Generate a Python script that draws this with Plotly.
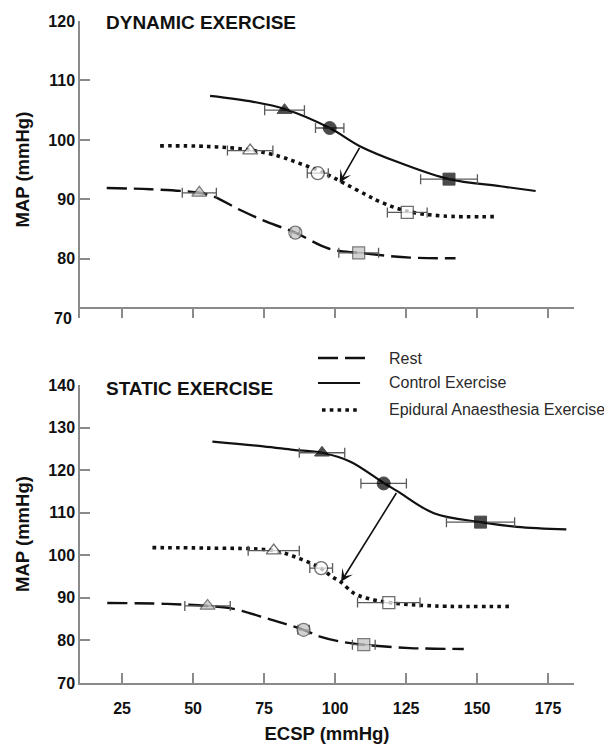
import plotly.graph_objects as go

# ---------------- data ----------------
ecsp_ticks = [25, 50, 75, 100, 125, 150, 175]
dyn_map_ticks = [80, 90, 100, 110, 120]
sta_map_ticks = [70, 80, 90, 100, 110, 120, 130, 140]

# Dynamic exercise - fitted curves
dyn_ctrl_curve_x = [56.0, 71.2, 82.2, 98.1, 108.9, 123.0, 140.1, 158.3, 170.6]
dyn_ctrl_curve_y = [107.4, 106.4, 105.2, 102.0, 98.9, 96.1, 93.4, 92.2, 91.4]
dyn_epi_curve_x = [38.4, 55.0, 70.1, 80.7, 87.2, 93.9, 98.8, 104.0, 111.2, 115.8, 125.4, 138.1, 155.9]
dyn_epi_curve_y = [99.0, 98.9, 98.3, 97.2, 96.1, 94.9, 93.8, 92.5, 90.7, 89.6, 88.0, 87.2, 87.1]
dyn_rest_curve_x = [19.6, 35.0, 52.2, 57.2, 66.6, 76.0, 86.0, 94.7, 99.4, 108.3, 126.4, 142.4]
dyn_rest_curve_y = [91.9, 91.7, 91.1, 90.5, 88.2, 86.2, 84.4, 82.3, 81.5, 81.0, 80.2, 80.1]

# Dynamic exercise - operating points (mean +/- SE of ECSP)
dyn_ctrl_x = [82.2, 98.1, 140.1]
dyn_ctrl_y = [105.0, 102.0, 93.4]
dyn_ctrl_err = [7, 5, 10]
dyn_epi_x = [70.1, 93.9, 125.4]
dyn_epi_y = [98.2, 94.4, 87.8]
dyn_epi_err = [8, 3.7, 7]
dyn_rest_x = [52.2, 86.0, 108.3]
dyn_rest_y = [91.1, 84.4, 81.0]
dyn_rest_err = [6, 1.5, 7]

# Static exercise - fitted curves
sta_ctrl_curve_x = [56.8, 74.7, 85.3, 95.4, 105.4, 117.1, 121.9, 134.8, 151.2, 164.0, 181.4]
sta_ctrl_curve_y = [126.7, 125.6, 124.8, 124.1, 122.0, 117.0, 115.1, 109.9, 107.8, 106.7, 106.1]
sta_epi_curve_x = [35.7, 55.0, 78.4, 88.0, 95.1, 98.8, 101.9, 106.6, 111.3, 118.9, 135.0, 161.2]
sta_epi_curve_y = [101.8, 101.7, 101.1, 99.1, 96.9, 95.0, 93.8, 91.1, 89.9, 88.9, 88.1, 88.0]
sta_rest_curve_x = [19.8, 40.0, 55.1, 63.1, 76.0, 81.9, 88.9, 94.7, 103.0, 110.1, 126.4, 145.3]
sta_rest_curve_y = [88.8, 88.6, 88.1, 87.6, 85.2, 84.0, 82.5, 80.9, 79.6, 79.0, 78.2, 78.0]

# Static exercise - operating points
sta_ctrl_x = [95.4, 117.1, 151.2]
sta_ctrl_y = [124.1, 116.9, 107.8]
sta_ctrl_err = [8, 8, 12]
sta_epi_x = [78.4, 95.1, 118.9]
sta_epi_y = [101.1, 97.0, 88.9]
sta_epi_err = [9, 4, 11]
sta_rest_x = [55.1, 88.9, 110.1]
sta_rest_y = [88.1, 82.5, 79.0]
sta_rest_err = [8, 2, 4]

point_symbols = ["triangle-up", "circle", "square"]

# arrows: (from x, from y, to x, to y)
dyn_arrow = [108.9, 98.9, 101.6, 92.8]
sta_arrow = [121.9, 115.0, 102.1, 93.8]

legend_names = ["Rest", "Control Exercise", "Epidural Anaesthesia Exercise"]
legend_keys = ["rest", "ctrl", "epi"]

# ---------------- styles ----------------
FONT = "Liberation Sans, Arial, sans-serif"
INK = "#111111"
AXC = "#8a8a8a"
ERRC = "#5a5a5a"
GRAY_FILL = "#bfbfbf"

line_styles = {
    "rest": dict(color=INK, width=2.4, dash="20px,7px"),
    "ctrl": dict(color=INK, width=2.2),
    "epi": dict(color=INK, width=3.6, dash="3.6px,4.2px"),
}
marker_styles = {
    "rest": dict(color=GRAY_FILL, line=dict(color="#444444", width=1.2)),
    "ctrl": dict(color="#000000", line=dict(color="#000000", width=1)),
    "epi": dict(color="white", line=dict(color="#333333", width=1.3)),
}

fig = go.Figure()

def add_panel(xa, ya, curves, points):
    for key, cx, cy in curves:
        fig.add_trace(go.Scatter(x=cx, y=cy, mode="lines", line_shape="spline",
                                 line=line_styles[key], xaxis=xa, yaxis=ya,
                                 showlegend=False, hoverinfo="skip"))
    # error bars first, so the symbols cover them
    for key, px, py, pe in points:
        fig.add_trace(go.Scatter(
            x=px, y=py, mode="markers", xaxis=xa, yaxis=ya, showlegend=False,
            hoverinfo="skip", marker=dict(size=1, color="rgba(0,0,0,0)"),
            error_x=dict(type="data", array=pe, color=ERRC, thickness=1.3, width=5)))
    for key, px, py, pe in points:
        fig.add_trace(go.Scatter(
            x=px, y=py, mode="markers", xaxis=xa, yaxis=ya, showlegend=False,
            marker=dict(symbol=point_symbols, size=[13, 13, 12], **marker_styles[key])))

add_panel("x", "y",
          [("rest", dyn_rest_curve_x, dyn_rest_curve_y),
           ("epi", dyn_epi_curve_x, dyn_epi_curve_y),
           ("ctrl", dyn_ctrl_curve_x, dyn_ctrl_curve_y)],
          [("rest", dyn_rest_x, dyn_rest_y, dyn_rest_err),
           ("epi", dyn_epi_x, dyn_epi_y, dyn_epi_err),
           ("ctrl", dyn_ctrl_x, dyn_ctrl_y, dyn_ctrl_err)])
add_panel("x2", "y2",
          [("rest", sta_rest_curve_x, sta_rest_curve_y),
           ("epi", sta_epi_curve_x, sta_epi_curve_y),
           ("ctrl", sta_ctrl_curve_x, sta_ctrl_curve_y)],
          [("rest", sta_rest_x, sta_rest_y, sta_rest_err),
           ("epi", sta_epi_x, sta_epi_y, sta_epi_err),
           ("ctrl", sta_ctrl_x, sta_ctrl_y, sta_ctrl_err)])

tickfont = dict(family=FONT, size=16, color=INK, weight="bold")
titlefont = dict(family=FONT, size=18.5, color=INK, weight="bold")
axis_common = dict(showline=True, linecolor=AXC, linewidth=1.5, tickcolor=AXC,
                   tickwidth=1.5, showgrid=False, zeroline=False, tickfont=tickfont,
                   automargin=False)
xrange = [10.2, 184.1]

# the page body adds an 8 px offset, so margins are reduced by 8 px on left/top
fig.update_layout(
    width=612, height=745,
    margin=dict(l=72, r=46, t=13, b=70),
    plot_bgcolor="white", paper_bgcolor="white",
    showlegend=False,
    xaxis=dict(domain=[0, 1], range=xrange, anchor="free", position=0.5665,
               tickvals=ecsp_ticks, ticks="outside", ticklen=9,
               showticklabels=False, **axis_common),
    yaxis=dict(domain=[0.551, 1], range=[70, 120], anchor="x", tickvals=dyn_map_ticks,
               ticks="inside", ticklen=10,
               title=dict(text="MAP (mmHg)", standoff=14, font=titlefont),
               **axis_common),
    xaxis2=dict(domain=[0, 1], range=xrange, anchor="y2", tickvals=ecsp_ticks,
                ticks="inside", ticklen=10, ticklabelstandoff=10,
                title=dict(text="ECSP (mmHg)", standoff=11, font=titlefont),
                **axis_common),
    yaxis2=dict(domain=[0, 0.450], range=[70, 140], anchor="x2", tickvals=sta_map_ticks,
                ticks="inside", ticklen=10,
                title=dict(text="MAP (mmHg)", standoff=14, font=titlefont),
                **axis_common),
)

# legend drawn as line samples + labels, placed like the original key
legend_line_x = [0.4818, 0.5769]
legend_text_x = 0.6215
legend_rows_y = [0.4909, 0.4532, 0.4124]
for name, key, ly in zip(legend_names, legend_keys, legend_rows_y):
    st = line_styles[key]
    x0 = legend_line_x[0] + (0.008 if key == "epi" else 0.0)
    x1 = legend_line_x[1] - (0.01 if key != "rest" else 0.0)
    fig.add_shape(type="line", xref="paper", yref="paper", x0=x0, x1=x1, y0=ly, y1=ly,
                  line=dict(color=st["color"], width=st["width"], dash=st.get("dash", "solid")))
    fig.add_annotation(x=legend_text_x, y=ly, xref="paper", yref="paper", text=name,
                       showarrow=False, xanchor="left", yanchor="middle",
                       font=dict(family=FONT, size=16, color="#2a2a2a"))

# bottom label of the top panel's y axis sits below its raised x axis line
fig.add_annotation(x=0, xref="paper", y=70, yref="y", text="70", showarrow=False,
                   xanchor="right", xshift=-6, font=tickfont)

# panel titles
fig.add_annotation(x=0.0526, xref="paper", y=1, yref="y domain", text="DYNAMIC EXERCISE",
                   showarrow=False, xanchor="left", yanchor="middle", yshift=-1, xshift=-2,
                   font=dict(family=FONT, size=19, color=INK, weight="bold"))
fig.add_annotation(x=0.0526, xref="paper", y=1, yref="y2 domain", text="STATIC EXERCISE",
                   showarrow=False, xanchor="left", yanchor="middle", yshift=-3, xshift=-2,
                   font=dict(family=FONT, size=19, color=INK, weight="bold"))

# arrows showing the resetting of the operating point
for (x0, y0, x1, y1), xa, ya in [(dyn_arrow, "x", "y"), (sta_arrow, "x2", "y2")]:
    fig.add_annotation(x=x1, y=y1, xref=xa, yref=ya, ax=x0, ay=y0, axref=xa, ayref=ya,
                       text="", showarrow=True, arrowhead=3, arrowsize=1.3,
                       arrowwidth=1.6, arrowcolor=INK)

fig.write_html("out.html")
